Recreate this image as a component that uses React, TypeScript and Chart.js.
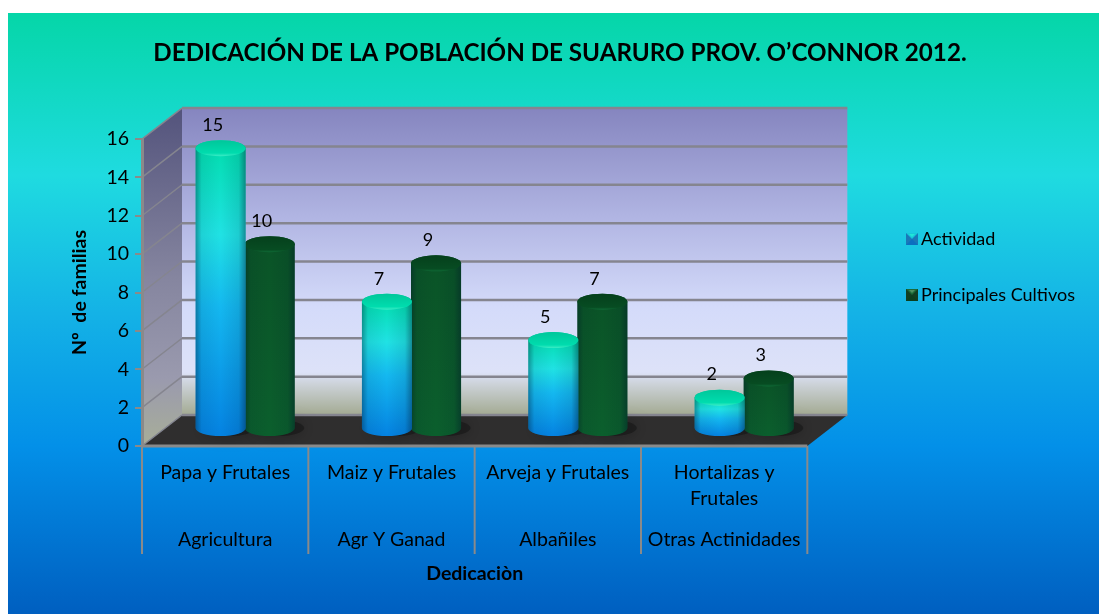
import React, { useEffect, useRef } from "react";
import { Chart, registerables } from "chart.js";

Chart.register(...registerables);

const TITLE = "DEDICACIÓN DE LA POBLACIÓN DE SUARURO PROV. O’CONNOR 2012.";
const categories: (string | string[])[] = ["Papa y Frutales", "Maiz y Frutales", "Arveja y Frutales", ["Hortalizas y", "Frutales"]];
const groups = ["Agricultura", "Agr Y Ganad", "Albañiles", "Otras Actinidades"];
const actividad = [15, 7, 5, 2];
const cultivos = [10, 9, 7, 3];
const yTicks = [0, 2, 4, 6, 8, 10, 12, 14, 16];

const FONT = "Lato, 'Open Sans', sans-serif";
const DX = 40;
const DY = -31;
const BAR_SHIFT = 20;

function legendMarker(light: string, top: string, bottom: string, side: string) {
  const c = document.createElement("canvas");
  c.width = 18;
  c.height = 12;
  const g = c.getContext("2d")!;
  g.translate(6, 0);
  const tri = (pts: number[][], col: string) => {
    g.fillStyle = col;
    g.beginPath();
    pts.forEach((p, i) => (i ? g.lineTo(p[0], p[1]) : g.moveTo(p[0], p[1])));
    g.closePath();
    g.fill();
  };
  tri([[0, 0], [12, 0], [12, 12], [0, 12]], bottom);
  tri([[0, 0], [6, 6], [0, 12]], side);
  tri([[12, 0], [6, 6], [12, 12]], side);
  tri([[0, 0], [12, 0], [6, 6]], top);
  tri([[3, 1], [9, 1], [6, 4]], light);
  return c;
}

const scene = {
  id: "scene",
  afterLayout(chart: any) {
    chart.legend.top = 0;
    chart.legend.bottom = 508;
    chart.legend.left = 860;
    chart.legend.right = 1080;
  },
  beforeDraw(chart: any) {
    const { ctx, width, height, chartArea: a, scales } = chart;
    const y = scales.y;
    const bg = ctx.createLinearGradient(0, 0, 0, height);
    bg.addColorStop(0, "#05d6a8");
    bg.addColorStop(0.27, "#1fdbe0");
    bg.addColorStop(0.5, "#14b2e6");
    bg.addColorStop(0.72, "#0390e8");
    bg.addColorStop(1, "#005fc0");
    ctx.fillStyle = bg;
    ctx.fillRect(0, 0, width, height);

    const L = a.left, R = a.right, T = y.getPixelForValue(16), B = y.getPixelForValue(0);
    const poly = (pts: number[][], fill: any) => {
      ctx.fillStyle = fill;
      ctx.beginPath();
      pts.forEach((p, i) => (i ? ctx.lineTo(p[0], p[1]) : ctx.moveTo(p[0], p[1])));
      ctx.closePath();
      ctx.fill();
    };
    const wall = ctx.createLinearGradient(0, T + DY, 0, B + DY);
    wall.addColorStop(0, "#8585bf");
    wall.addColorStop(0.35, "#b0b4e2");
    wall.addColorStop(0.65, "#d4dbfa");
    wall.addColorStop(0.86, "#dde2f8");
    wall.addColorStop(0.9, "#ccd2d8");
    wall.addColorStop(1, "#a3aa92");
    poly([[L + DX, T + DY], [R + DX, T + DY], [R + DX, B + DY], [L + DX, B + DY]], wall);

    const side = ctx.createLinearGradient(0, T + DY, 0, B);
    side.addColorStop(0, "#53537c");
    side.addColorStop(0.5, "#85859f");
    side.addColorStop(0.8, "#9a9aae");
    side.addColorStop(1, "#a8ae98");
    poly([[L, T], [L + DX, T + DY], [L + DX, B + DY], [L, B]], side);

    poly([[L, B], [L + DX, B + DY], [R + DX, B + DY], [R, B]], "#2f2e2e");

    ctx.lineCap = "butt";
    ctx.strokeStyle = "#85858f";
    yTicks.forEach((v) => {
      const p = y.getPixelForValue(v);
      ctx.lineWidth = 2.5;
      ctx.beginPath();
      ctx.moveTo(L + DX, p + DY);
      ctx.lineTo(R + DX, p + DY);
      ctx.stroke();
      ctx.lineWidth = 1.5;
      ctx.beginPath();
      ctx.moveTo(L, p);
      ctx.lineTo(L + DX, p + DY);
      ctx.stroke();
    });

    // category dividers and the front edge
    const x = scales.x;
    const step = (R - L) / categories.length;
    ctx.strokeStyle = "#8a8a8a";
    ctx.lineWidth = 2;
    for (let i = 0; i <= categories.length; i++) {
      const px = i < categories.length ? x.getPixelForValue(i) - step / 2 : x.getPixelForValue(i - 1) + step / 2;
      ctx.beginPath();
      ctx.moveTo(px, B);
      ctx.lineTo(px, B + 108);
      ctx.stroke();
    }
    ctx.lineWidth = 3;
    ctx.beginPath();
    ctx.moveTo(L, B);
    ctx.lineTo(R, B);
    ctx.stroke();
  },
  beforeDatasetsDraw(chart: any) {
    const { ctx } = chart;
    chart.data.datasets.forEach((_: any, i: number) => {
      chart.getDatasetMeta(i).data.forEach((el: any) => {
        ctx.save();
        ctx.shadowColor = "rgba(0,0,0,0.6)";
        ctx.shadowBlur = 14;
        ctx.fillStyle = "rgba(15,15,15,0.45)";
        ctx.beginPath();
        ctx.ellipse(el.x + BAR_SHIFT + 8, el.base - 17, el.width / 2 + 2, 8, 0, 0, Math.PI * 2);
        ctx.fill();
        ctx.restore();
      });
    });
  },
  beforeDatasetDraw(chart: any, args: any) {
    const { ctx } = chart;
    const green = args.index === 1;
    chart.getDatasetMeta(args.index).data.forEach((el: any) => {
      const rx = el.width / 2 + 0.5;
      const ry = 8;
      const cx = el.x + BAR_SHIFT;
      const yt = el.y - 10;
      const yb = el.base - 17;
      const body = () => {
        ctx.beginPath();
        ctx.moveTo(cx - rx, yt);
        ctx.lineTo(cx - rx, yb);
        ctx.ellipse(cx, yb, rx, ry, 0, Math.PI, 0, true);
        ctx.lineTo(cx + rx, yt);
        ctx.ellipse(cx, yt, rx, ry, 0, 0, Math.PI, true);
        ctx.closePath();
      };
      const v = ctx.createLinearGradient(0, yt, 0, yb + ry);
      if (green) {
        v.addColorStop(0, "#0a5427");
        v.addColorStop(1, "#0b5f2d");
      } else {
        v.addColorStop(0, "#02deb0");
        v.addColorStop(0.3, "#20e2e4");
        v.addColorStop(0.55, "#14b8f0");
        v.addColorStop(1, "#0482e2");
      }
      body();
      ctx.fillStyle = v;
      ctx.fill();
      const h = ctx.createLinearGradient(cx - rx, 0, cx + rx, 0);
      h.addColorStop(0, "rgba(0,20,40,0.38)");
      h.addColorStop(0.12, "rgba(0,20,40,0.08)");
      h.addColorStop(0.5, "rgba(0,20,40,0)");
      h.addColorStop(0.86, "rgba(0,20,40,0.1)");
      h.addColorStop(1, "rgba(0,20,40,0.42)");
      body();
      ctx.fillStyle = h;
      ctx.fill();
      const c = ctx.createLinearGradient(0, yt - ry, 0, yt + ry);
      if (green) {
        c.addColorStop(0, "#05401c");
        c.addColorStop(0.85, "#074c22");
        c.addColorStop(1, "#0f6a36");
      } else {
        c.addColorStop(0, "#00c79a");
        c.addColorStop(0.8, "#00dcae");
        c.addColorStop(1, "#3cecc6");
      }
      ctx.beginPath();
      ctx.ellipse(cx, yt, rx, ry, 0, 0, Math.PI * 2);
      ctx.fillStyle = c;
      ctx.fill();
    });
    return false;
  },
  afterDatasetsDraw(chart: any) {
    const { ctx } = chart;
    ctx.save();
    ctx.fillStyle = "#000";
    ctx.font = `18px ${FONT}`;
    ctx.textAlign = "center";
    ctx.textBaseline = "middle";
    chart.data.datasets.forEach((ds: any, i: number) => {
      chart.getDatasetMeta(i).data.forEach((el: any, j: number) => {
        ctx.fillText(String(ds.data[j]), el.x + BAR_SHIFT - 8, el.y - 33);
      });
    });
    ctx.restore();
  },
};

export default function App() {
  const ref = useRef<HTMLCanvasElement>(null);
  useEffect(() => {
    document.body.style.background = "#fff";
    const markers = [
      legendMarker("#20e6d8", "#16c8d8", "#0c6fc0", "#1a78b8"),
      legendMarker("#4f8f5f", "#1c6a38", "#0c3f1e", "#123f22"),
    ];
    const chart = new Chart(ref.current!, {
      type: "bar",
      plugins: [scene],
      data: {
        labels: categories as any,
        datasets: [
          { label: "Actividad", data: actividad, backgroundColor: "#14b8f0", categoryPercentage: 0.59, barPercentage: 1 },
          { label: "Principales Cultivos", data: cultivos, backgroundColor: "#0b5a2a", categoryPercentage: 0.59, barPercentage: 1 },
        ],
      },
      options: {
        responsive: false,
        animation: false,
        events: [],
        layout: { padding: { left: 37, right: 24, top: 0, bottom: 0 } },
        plugins: {
          tooltip: { enabled: false },
          title: {
            display: true,
            text: TITLE,
            color: "#000",
            font: { family: FONT, size: 24.2, weight: "bold" },
            padding: { top: 26, bottom: 71 },
          },
          legend: {
            display: true,
            position: "right",
            labels: {
              usePointStyle: true,
              pointStyleWidth: 6,
              color: "#000",
              font: { family: FONT, size: 18 },
              padding: 38,
              generateLabels: () =>
                ["Actividad", "Principales Cultivos"].map((t, i) => ({
                  text: t,
                  datasetIndex: i,
                  pointStyle: markers[i],
                  fontColor: "#000",
                  hidden: false,
                })) as any,
            },
          },
        },
        scales: {
          x: {
            type: "category",
            position: "bottom",
            weight: 1,
            offset: true,
            grid: { display: false },
            border: { display: false },
            ticks: { color: "#000", font: { family: FONT, size: 19.5, lineHeight: 1.33 }, padding: 6, autoSkip: false, maxRotation: 0, minRotation: 0 },
            afterFit: (s: any) => { s.height = 74; },
          },
          x2: {
            type: "category",
            position: "bottom",
            weight: 2,
            offset: true,
            labels: groups,
            grid: { display: false },
            border: { display: false },
            ticks: { color: "#000", font: { family: FONT, size: 19.5 }, padding: 0, autoSkip: false, maxRotation: 0, minRotation: 0 },
            title: { display: true, text: "Dedicaciòn", color: "#000", font: { family: FONT, size: 19.5, weight: "bold" }, padding: { top: 10, bottom: 29 } },
            afterFit: (s: any) => { s.height = 94; },
          },
          y: {
            min: 0,
            max: 16,
            ticks: { stepSize: 2, color: "#000", font: { family: FONT, size: 19.5 }, padding: 6 },
            grid: { drawOnChartArea: false, color: "#8a8a8a", lineWidth: 2, tickLength: 7 },
            border: { color: "#8a8a8a", width: 3 },
            title: { display: true, text: "Nº  de familias", color: "#000", font: { family: FONT, size: 19.5, weight: "bold" }, padding: { top: 23, bottom: 0 } },
            afterFit: (s: any) => { s.width = 97; },
          },
          spacer: {
            type: "linear",
            position: "right",
            display: true,
            ticks: { display: false },
            grid: { display: false },
            border: { display: false },
            afterFit: (s: any) => { s.width = 96; },
          },
        },
      } as any,
    });
    return () => chart.destroy();
  }, []);
  return (
    <div style={{ position: "absolute", left: 8, top: 13, width: 1091, height: 601 }}>
      <canvas ref={ref} width={1091} height={601} style={{ display: "block" }} />
    </div>
  );
}
